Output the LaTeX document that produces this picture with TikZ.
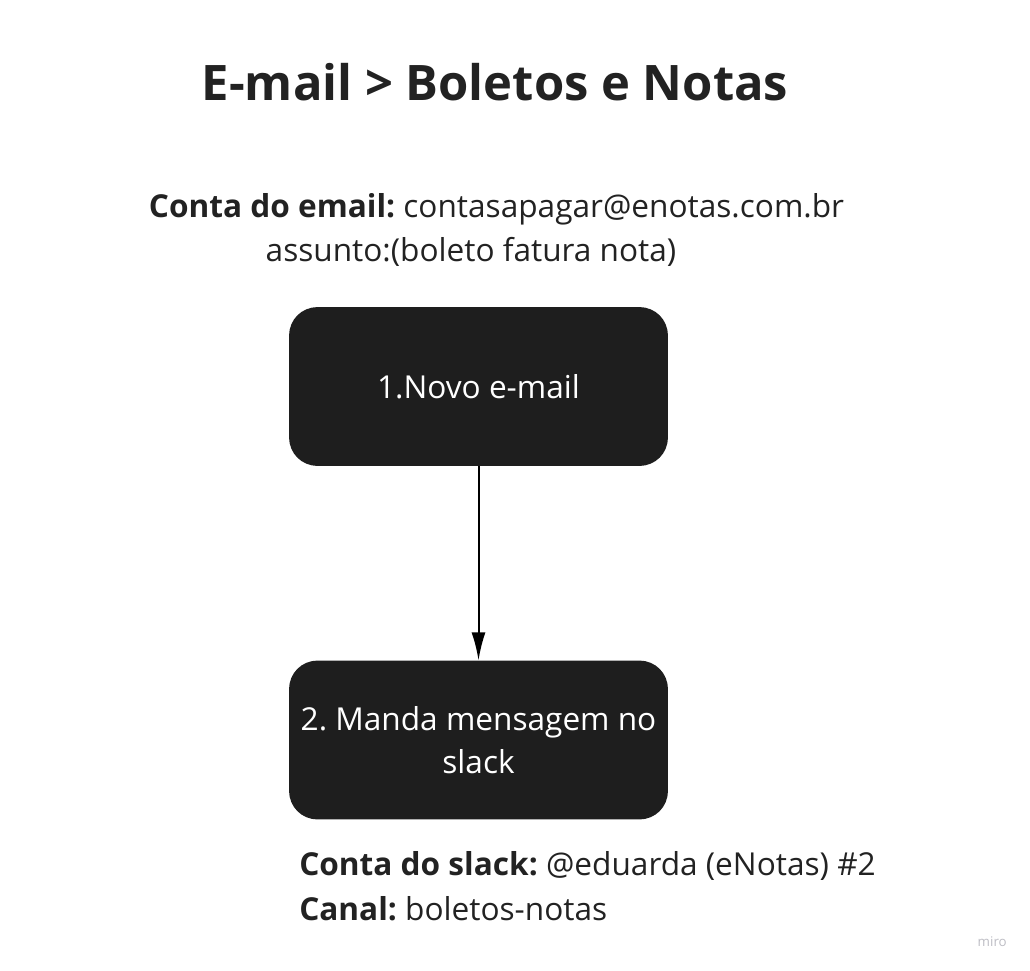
\documentclass[tikz,border=0pt]{standalone}
\usepackage{fontspec}
\setmainfont{Open Sans}
\usetikzlibrary{arrows.meta,positioning}

\definecolor{boxfill}{HTML}{1E1E1E}
\definecolor{inkgray}{HTML}{222222}
\definecolor{markgray}{HTML}{BDBDC4}

\tikzset{
    stepbox/.style={rectangle, rounded corners=21pt, fill=boxfill, text=white,
        minimum width=284pt, minimum height=119pt, align=center,
        font=\fontsize{23.7}{32.5}\selectfont},
    note/.style={text=inkgray, inner sep=0pt, font=\fontsize{23.7}{33}\selectfont},
    flow/.style={-{Latex[length=21pt,width=10.5pt]}, line width=1.5pt, black}
}

\begin{document}
\frenchspacing
\begin{tikzpicture}[x=0.75pt,y=-0.75pt]

        \useasboundingbox (0,0) rectangle (1030,970);

        % title
        \node[note, anchor=base, font=\fontsize{36.7}{44}\bfseries] (title) at (495,101) {E-mail > Boletos e Notas};

        % e-mail account
        \node[note, anchor=base] (conta) at (496.5,217) {\textbf{Conta do email:} contasapagar@enotas.com.br};
        \node[note, anchor=base] (assunto) at (471,261) {assunto:(boleto fatura nota)};

        % steps
        \node[stepbox] (novo) at (478.5,386.5) {1.Novo e-mail};
        \node[stepbox] (manda) at (478.5,740) {2. Manda mensagem no\\slack};

        \draw[flow] (novo) -- (manda);

        % slack account
        \node[note, anchor=base west] (slack) at (299,875) {\textbf{Conta do slack:} @eduarda (eNotas) \#2};
        \node[note, anchor=base west] (canal) at (299,920) {\textbf{Canal:} boletos-notas};

        \node[text=markgray, anchor=base east, inner sep=0pt, font=\fontsize{10}{11}\selectfont] (miro) at (1007,946) {miro};

\end{tikzpicture}
\end{document}
